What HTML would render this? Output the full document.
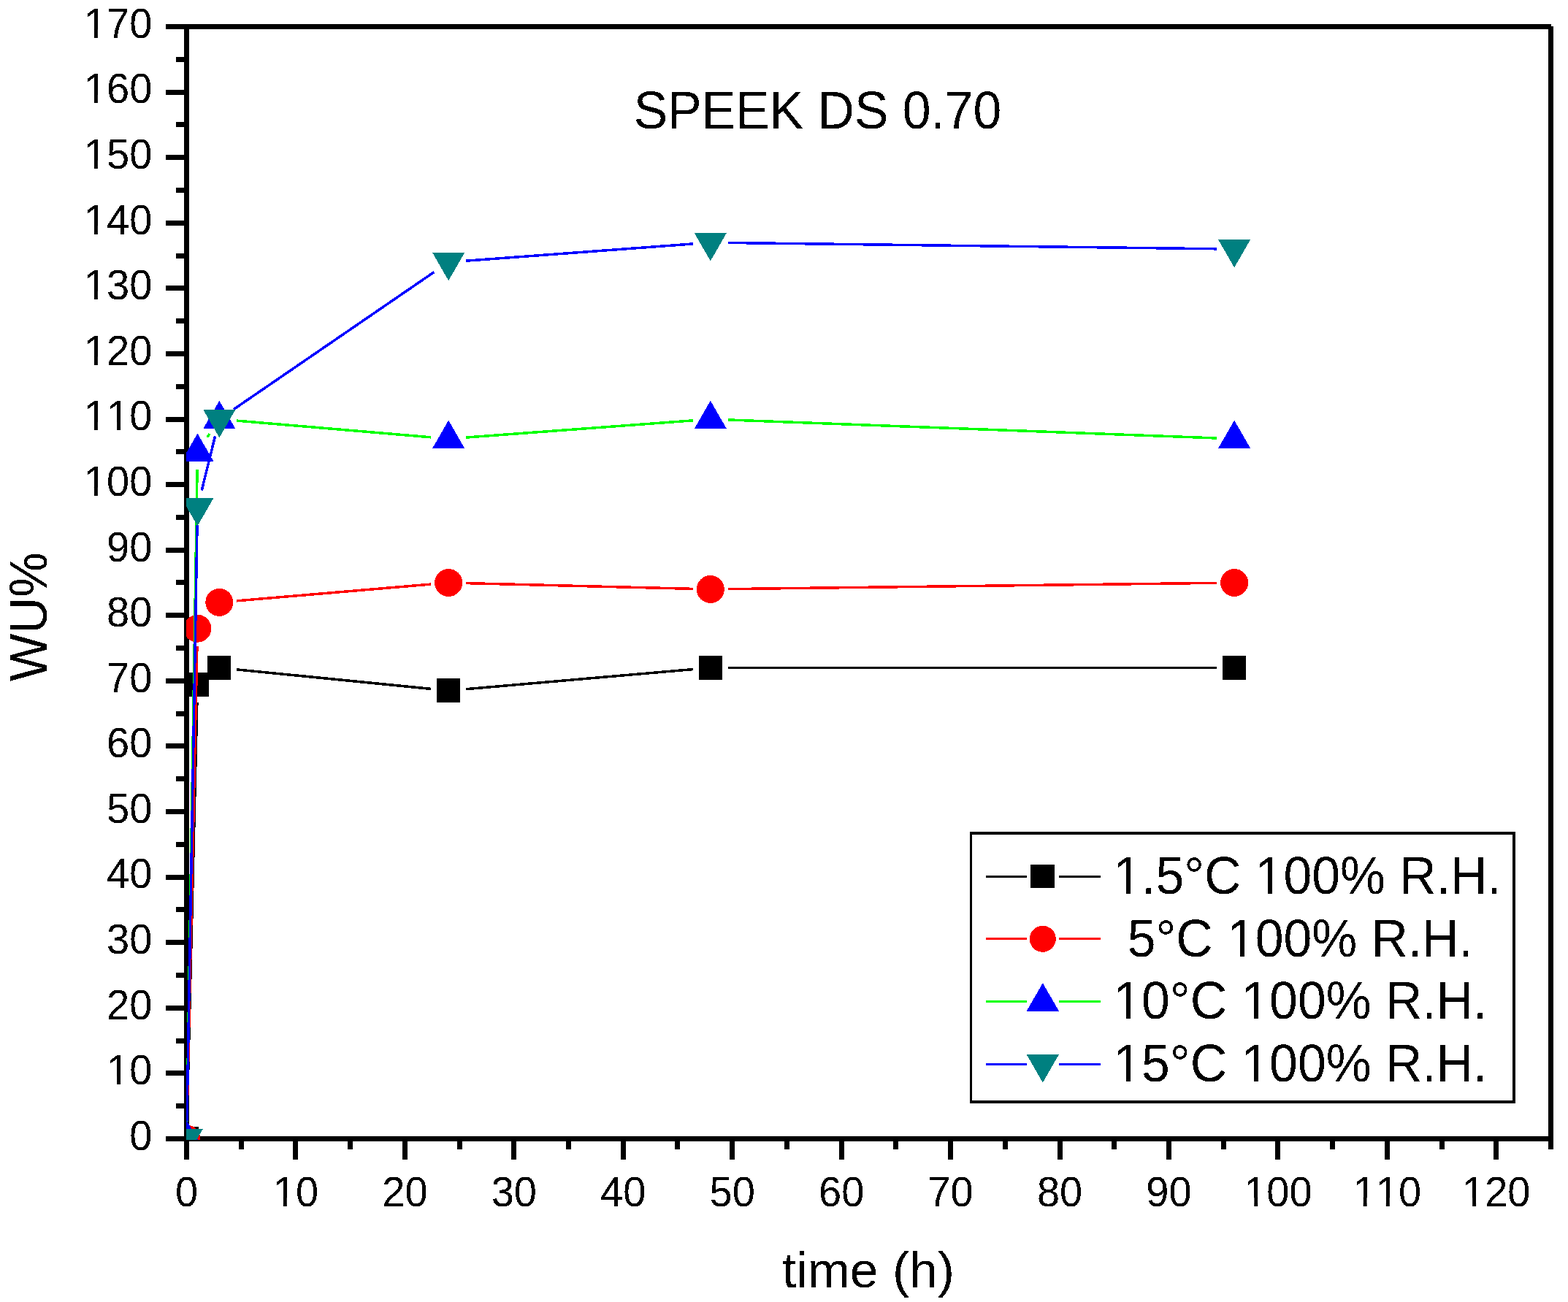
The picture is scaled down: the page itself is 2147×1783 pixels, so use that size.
<!DOCTYPE html>
<html><head><meta charset="utf-8"><title>SPEEK DS 0.70 water uptake</title>
<style>html,body{margin:0;padding:0;background:#fff;width:2147px;height:1783px;overflow:hidden}svg{display:block}text{font-family:"Liberation Sans",Arial,sans-serif;fill:#000;font-kerning:none;font-variant-ligatures:none;white-space:pre}</style></head><body>
<svg width="2147" height="1783" viewBox="0 0 2147 1783">
<rect width="2147" height="1783" fill="#fff"/>
<defs><clipPath id="pa"><rect x="255" y="36.5" width="1868.5" height="1524.5"/></clipPath><filter id="bw" x="-5%" y="-20%" width="110%" height="140%" color-interpolation-filters="sRGB"><feComponentTransfer><feFuncA type="discrete" tableValues="0 1"/></feComponentTransfer></filter></defs>
<g fill="#000" shape-rendering="crispEdges">
<rect x="252" y="33" width="7" height="1530"/>
<rect x="252" y="33" width="1872" height="7"/>
<rect x="2120" y="36" width="7" height="1538"/>
<rect x="252" y="1556" width="1875" height="7"/>
<rect x="227" y="1556" width="25" height="7"/>
<rect x="241" y="1511" width="11" height="7"/>
<rect x="227" y="1466" width="25" height="7"/>
<rect x="241" y="1422" width="11" height="7"/>
<rect x="227" y="1377" width="25" height="7"/>
<rect x="241" y="1332" width="11" height="7"/>
<rect x="227" y="1287" width="25" height="7"/>
<rect x="241" y="1242" width="11" height="7"/>
<rect x="227" y="1198" width="25" height="7"/>
<rect x="241" y="1153" width="11" height="7"/>
<rect x="227" y="1108" width="25" height="7"/>
<rect x="241" y="1063" width="11" height="7"/>
<rect x="227" y="1018" width="25" height="7"/>
<rect x="241" y="974" width="11" height="7"/>
<rect x="227" y="929" width="25" height="7"/>
<rect x="241" y="884" width="11" height="7"/>
<rect x="227" y="839" width="25" height="7"/>
<rect x="241" y="794" width="11" height="7"/>
<rect x="227" y="750" width="25" height="7"/>
<rect x="241" y="705" width="11" height="7"/>
<rect x="227" y="660" width="25" height="7"/>
<rect x="241" y="615" width="11" height="7"/>
<rect x="227" y="571" width="25" height="7"/>
<rect x="241" y="526" width="11" height="7"/>
<rect x="227" y="481" width="25" height="7"/>
<rect x="241" y="436" width="11" height="7"/>
<rect x="227" y="391" width="25" height="7"/>
<rect x="241" y="347" width="11" height="7"/>
<rect x="227" y="302" width="25" height="7"/>
<rect x="241" y="257" width="11" height="7"/>
<rect x="227" y="212" width="25" height="7"/>
<rect x="241" y="167" width="11" height="7"/>
<rect x="227" y="123" width="25" height="7"/>
<rect x="241" y="78" width="11" height="7"/>
<rect x="227" y="33" width="25" height="7"/>
<rect x="252" y="1563" width="7" height="25"/>
<rect x="327" y="1563" width="7" height="11"/>
<rect x="401" y="1563" width="7" height="25"/>
<rect x="476" y="1563" width="7" height="11"/>
<rect x="551" y="1563" width="7" height="25"/>
<rect x="626" y="1563" width="7" height="11"/>
<rect x="700" y="1563" width="7" height="25"/>
<rect x="775" y="1563" width="7" height="11"/>
<rect x="850" y="1563" width="7" height="25"/>
<rect x="924" y="1563" width="7" height="11"/>
<rect x="999" y="1563" width="7" height="25"/>
<rect x="1074" y="1563" width="7" height="11"/>
<rect x="1149" y="1563" width="7" height="25"/>
<rect x="1223" y="1563" width="7" height="11"/>
<rect x="1298" y="1563" width="7" height="25"/>
<rect x="1373" y="1563" width="7" height="11"/>
<rect x="1448" y="1563" width="7" height="25"/>
<rect x="1522" y="1563" width="7" height="11"/>
<rect x="1597" y="1563" width="7" height="25"/>
<rect x="1672" y="1563" width="7" height="11"/>
<rect x="1746" y="1563" width="7" height="25"/>
<rect x="1821" y="1563" width="7" height="11"/>
<rect x="1896" y="1563" width="7" height="25"/>
<rect x="1971" y="1563" width="7" height="11"/>
<rect x="2045" y="1563" width="7" height="25"/>
<rect x="2120" y="1563" width="7" height="11"/>
</g>
<g clip-path="url(#pa)" shape-rendering="crispEdges">
<path d="M256.08 1535.51L269.87 961.75M324.21 916.85L590.27 943.43M638.06 943.73L948.9 916.55M996.81 914.46L1666.12 914.46" stroke="#000000" stroke-width="3.5" fill="none"/>
<rect x="239.5" y="1543" width="32" height="33" fill="#000000"/>
<rect x="254.44" y="921.26" width="32" height="33" fill="#000000"/>
<rect x="284.33" y="897.96" width="32" height="33" fill="#000000"/>
<rect x="598.16" y="929.32" width="32" height="33" fill="#000000"/>
<rect x="956.81" y="897.96" width="32" height="33" fill="#000000"/>
<rect x="1674.12" y="897.96" width="32" height="33" fill="#000000"/>
<path d="M256.01 1535.51L269.93 884.71M324.24 822.83L590.24 800.05M638.15 798.6L948.82 806.36M996.81 806.66L1666.13 798.3" stroke="#ff0000" stroke-width="3.5" fill="none"/>
<circle cx="255.5" cy="1559.5" r="19" fill="#ff0000"/>
<circle cx="270.44" cy="860.71" r="19" fill="#ff0000"/>
<circle cx="300.33" cy="824.88" r="19" fill="#ff0000"/>
<circle cx="614.16" cy="798" r="19" fill="#ff0000"/>
<circle cx="972.81" cy="806.96" r="19" fill="#ff0000"/>
<circle cx="1690.12" cy="798" r="19" fill="#ff0000"/>
<path d="M255.88 1535.5L270.06 642.82M283.76 598.86L287.01 593.99M324.24 576.08L590.24 598.86M638.09 599.11L948.88 575.82M996.8 574.93L1666.14 600.01" stroke="#00ff00" stroke-width="3.5" fill="none"/>
<path d="M255.5 1534.2L277.6 1572.6L233.4 1572.6Z" fill="#0000ff"/>
<path d="M270.44 593.52L292.54 631.92L248.34 631.92Z" fill="#0000ff"/>
<path d="M300.33 548.73L322.43 587.13L278.23 587.13Z" fill="#0000ff"/>
<path d="M614.16 575.61L636.26 614.01L592.06 614.01Z" fill="#0000ff"/>
<path d="M972.81 548.73L994.91 587.13L950.71 587.13Z" fill="#0000ff"/>
<path d="M1690.12 575.61L1712.22 614.01L1668.02 614.01Z" fill="#0000ff"/>
<path d="M255.91 1535.5L270.03 718.97M276.2 671.67L294.57 597.33M320.13 560.46L594.36 372.58M638.09 357.22L948.88 333.93M996.81 332.44L1666.13 340.8" stroke="#0000ff" stroke-width="3.5" fill="none"/>
<path d="M233.4 1546.4L277.6 1546.4L255.5 1584.8Z" fill="#008080"/>
<path d="M248.34 681.87L292.54 681.87L270.44 720.27Z" fill="#008080"/>
<path d="M278.23 560.93L322.43 560.93L300.33 599.33Z" fill="#008080"/>
<path d="M592.06 345.92L636.26 345.92L614.16 384.32Z" fill="#008080"/>
<path d="M950.71 319.04L994.91 319.04L972.81 357.44Z" fill="#008080"/>
<path d="M1668.02 328L1712.22 328L1690.12 366.4Z" fill="#008080"/>
</g>
<g transform="translate(177.16 1574.8) scale(1 1.04)" filter="url(#bw)"><text x="0" y="0" font-size="56">0</text></g>
<g transform="translate(146.01 1485.21) scale(1 1.04)" filter="url(#bw)"><text x="0" y="0" font-size="56">10</text><g fill="#fff"><rect x="2.73" y="-10.94" width="11.35" height="12.58"/><rect x="19.03" y="-10.94" width="11.05" height="12.58"/></g></g>
<g transform="translate(146.01 1395.62) scale(1 1.04)" filter="url(#bw)"><text x="0" y="0" font-size="56">20</text></g>
<g transform="translate(146.01 1306.04) scale(1 1.04)" filter="url(#bw)"><text x="0" y="0" font-size="56">30</text></g>
<g transform="translate(146.01 1216.45) scale(1 1.04)" filter="url(#bw)"><text x="0" y="0" font-size="56">40</text></g>
<g transform="translate(146.01 1126.86) scale(1 1.04)" filter="url(#bw)"><text x="0" y="0" font-size="56">50</text></g>
<g transform="translate(146.01 1037.27) scale(1 1.04)" filter="url(#bw)"><text x="0" y="0" font-size="56">60</text></g>
<g transform="translate(146.01 947.68) scale(1 1.04)" filter="url(#bw)"><text x="0" y="0" font-size="56">70</text></g>
<g transform="translate(146.01 858.09) scale(1 1.04)" filter="url(#bw)"><text x="0" y="0" font-size="56">80</text></g>
<g transform="translate(146.01 768.51) scale(1 1.04)" filter="url(#bw)"><text x="0" y="0" font-size="56">90</text></g>
<g transform="translate(114.87 678.92) scale(1 1.04)" filter="url(#bw)"><text x="0" y="0" font-size="56">100</text><g fill="#fff"><rect x="2.73" y="-10.94" width="11.35" height="12.58"/><rect x="19.03" y="-10.94" width="11.05" height="12.58"/></g></g>
<g transform="translate(114.87 589.33) scale(1 1.04)" filter="url(#bw)"><text x="0" y="0" font-size="56">110</text><g fill="#fff"><rect x="2.73" y="-10.94" width="11.35" height="12.58"/><rect x="19.03" y="-10.94" width="11.05" height="12.58"/><rect x="33.88" y="-10.94" width="11.35" height="12.58"/><rect x="50.18" y="-10.94" width="11.05" height="12.58"/></g></g>
<g transform="translate(114.87 499.74) scale(1 1.04)" filter="url(#bw)"><text x="0" y="0" font-size="56">120</text><g fill="#fff"><rect x="2.73" y="-10.94" width="11.35" height="12.58"/><rect x="19.03" y="-10.94" width="11.05" height="12.58"/></g></g>
<g transform="translate(114.87 410.15) scale(1 1.04)" filter="url(#bw)"><text x="0" y="0" font-size="56">130</text><g fill="#fff"><rect x="2.73" y="-10.94" width="11.35" height="12.58"/><rect x="19.03" y="-10.94" width="11.05" height="12.58"/></g></g>
<g transform="translate(114.87 320.56) scale(1 1.04)" filter="url(#bw)"><text x="0" y="0" font-size="56">140</text><g fill="#fff"><rect x="2.73" y="-10.94" width="11.35" height="12.58"/><rect x="19.03" y="-10.94" width="11.05" height="12.58"/></g></g>
<g transform="translate(114.87 230.98) scale(1 1.04)" filter="url(#bw)"><text x="0" y="0" font-size="56">150</text><g fill="#fff"><rect x="2.73" y="-10.94" width="11.35" height="12.58"/><rect x="19.03" y="-10.94" width="11.05" height="12.58"/></g></g>
<g transform="translate(114.87 141.39) scale(1 1.04)" filter="url(#bw)"><text x="0" y="0" font-size="56">160</text><g fill="#fff"><rect x="2.73" y="-10.94" width="11.35" height="12.58"/><rect x="19.03" y="-10.94" width="11.05" height="12.58"/></g></g>
<g transform="translate(114.87 51.8) scale(1 1.04)" filter="url(#bw)"><text x="0" y="0" font-size="56">170</text><g fill="#fff"><rect x="2.73" y="-10.94" width="11.35" height="12.58"/><rect x="19.03" y="-10.94" width="11.05" height="12.58"/></g></g>
<g transform="translate(239.93 1651.7) scale(1 1.04)" filter="url(#bw)"><text x="0" y="0" font-size="56">0</text></g>
<g transform="translate(373.8 1651.7) scale(1 1.04)" filter="url(#bw)"><text x="0" y="0" font-size="56">10</text><g fill="#fff"><rect x="2.73" y="-10.94" width="11.35" height="12.58"/><rect x="19.03" y="-10.94" width="11.05" height="12.58"/></g></g>
<g transform="translate(523.24 1651.7) scale(1 1.04)" filter="url(#bw)"><text x="0" y="0" font-size="56">20</text></g>
<g transform="translate(672.68 1651.7) scale(1 1.04)" filter="url(#bw)"><text x="0" y="0" font-size="56">30</text></g>
<g transform="translate(822.12 1651.7) scale(1 1.04)" filter="url(#bw)"><text x="0" y="0" font-size="56">40</text></g>
<g transform="translate(971.56 1651.7) scale(1 1.04)" filter="url(#bw)"><text x="0" y="0" font-size="56">50</text></g>
<g transform="translate(1121 1651.7) scale(1 1.04)" filter="url(#bw)"><text x="0" y="0" font-size="56">60</text></g>
<g transform="translate(1270.44 1651.7) scale(1 1.04)" filter="url(#bw)"><text x="0" y="0" font-size="56">70</text></g>
<g transform="translate(1419.88 1651.7) scale(1 1.04)" filter="url(#bw)"><text x="0" y="0" font-size="56">80</text></g>
<g transform="translate(1569.32 1651.7) scale(1 1.04)" filter="url(#bw)"><text x="0" y="0" font-size="56">90</text></g>
<g transform="translate(1703.18 1651.7) scale(1 1.04)" filter="url(#bw)"><text x="0" y="0" font-size="56">100</text><g fill="#fff"><rect x="2.73" y="-10.94" width="11.35" height="12.58"/><rect x="19.03" y="-10.94" width="11.05" height="12.58"/></g></g>
<g transform="translate(1852.62 1651.7) scale(1 1.04)" filter="url(#bw)"><text x="0" y="0" font-size="56">110</text><g fill="#fff"><rect x="2.73" y="-10.94" width="11.35" height="12.58"/><rect x="19.03" y="-10.94" width="11.05" height="12.58"/><rect x="33.88" y="-10.94" width="11.35" height="12.58"/><rect x="50.18" y="-10.94" width="11.05" height="12.58"/></g></g>
<g transform="translate(2002.06 1651.7) scale(1 1.04)" filter="url(#bw)"><text x="0" y="0" font-size="56">120</text><g fill="#fff"><rect x="2.73" y="-10.94" width="11.35" height="12.58"/><rect x="19.03" y="-10.94" width="11.05" height="12.58"/></g></g>
<g transform="translate(867.8 176) scale(1 1.04)" filter="url(#bw)"><text x="0" y="0" font-size="69.7">SPEEK DS 0.70</text></g>
<g transform="translate(63.9 933.1) rotate(-90) scale(1 1.04)" filter="url(#bw)"><text x="0" y="0" font-size="69.2">WU%</text></g>
<g transform="translate(1070.9 1762.9) scale(1 0.985)" filter="url(#bw)"><text x="0" y="0" font-size="69.7">time (h)</text></g>
<g shape-rendering="crispEdges">
<rect x="1329.5" y="1141" width="743.5" height="368" fill="#fff" stroke="#000" stroke-width="3.7"/>
<path d="M1350 1200.4H1406M1450 1200.4H1507" stroke="#000000" stroke-width="3.2" fill="none"/>
<rect x="1411.3" y="1184.4" width="33" height="32" fill="#000000"/>
<g transform="translate(1524.3 1224.3) scale(1 1.04)" filter="url(#bw)"><text x="0" y="0" font-size="69.7">1.5°C 100% R.H.</text><g fill="#fff"><rect x="3.4" y="-13.61" width="14.12" height="15.66"/><rect x="23.69" y="-13.61" width="13.75" height="15.66"/><rect x="197.87" y="-13.61" width="14.12" height="15.66"/><rect x="218.15" y="-13.61" width="13.75" height="15.66"/></g></g>
<path d="M1350 1285.8H1406M1450 1285.8H1507" stroke="#ff0000" stroke-width="3.2" fill="none"/>
<circle cx="1427.8" cy="1285.8" r="18" fill="#ff0000"/>
<g transform="translate(1524.3 1309.7) scale(1 1.04)" filter="url(#bw)"><text x="0" y="0" font-size="69.7">&#160;5°C&#160;100%&#160;R.H.</text><g fill="#fff"><rect x="159.11" y="-13.61" width="14.12" height="15.66"/><rect x="179.39" y="-13.61" width="13.75" height="15.66"/></g></g>
<path d="M1350 1371.4H1406M1450 1371.4H1507" stroke="#00ff00" stroke-width="3.2" fill="none"/>
<path d="M1427.8 1346.1L1449.9 1384.5L1405.7 1384.5Z" fill="#0000ff"/>
<g transform="translate(1524.3 1395) scale(1 1.04)" filter="url(#bw)"><text x="0" y="0" font-size="69.7">10°C 100% R.H.</text><g fill="#fff"><rect x="3.4" y="-13.61" width="14.12" height="15.66"/><rect x="23.69" y="-13.61" width="13.75" height="15.66"/><rect x="178.5" y="-13.61" width="14.12" height="15.66"/><rect x="198.79" y="-13.61" width="13.75" height="15.66"/></g></g>
<path d="M1350 1457.2H1406M1450 1457.2H1507" stroke="#0000ff" stroke-width="3.2" fill="none"/>
<path d="M1405.7 1444.1L1449.9 1444.1L1427.8 1482.5Z" fill="#008080"/>
<g transform="translate(1524.3 1481) scale(1 1.04)" filter="url(#bw)"><text x="0" y="0" font-size="69.7">15°C 100% R.H.</text><g fill="#fff"><rect x="3.4" y="-13.61" width="14.12" height="15.66"/><rect x="23.69" y="-13.61" width="13.75" height="15.66"/><rect x="178.5" y="-13.61" width="14.12" height="15.66"/><rect x="198.79" y="-13.61" width="13.75" height="15.66"/></g></g>
</g>
</svg></body></html>
